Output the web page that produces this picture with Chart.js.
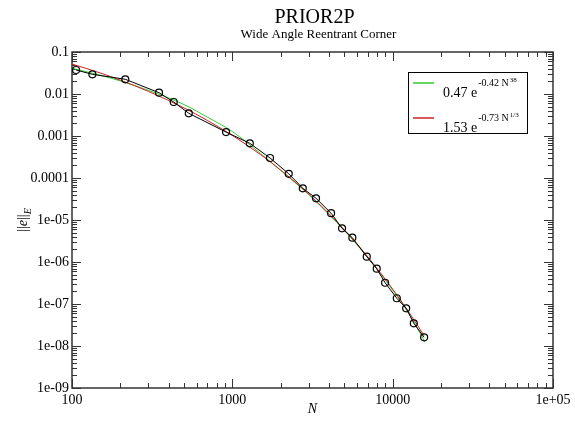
<!DOCTYPE html>
<html>
<head>
<meta charset="utf-8">
<script src="https://cdn.jsdelivr.net/npm/chart.js@4/dist/chart.umd.min.js"></script>
<style>
  html, body { margin: 0; padding: 0; background: #fff; }
  canvas { display: block; }
</style>
</head>
<body>
<canvas id="chart" width="575" height="421"></canvas>
<script>
// measured error vs number of unknowns
const nPoints = [106, 134, 215, 349, 431, 535, 914, 1285, 1718, 2248, 2750, 3327, 4130, 4833, 5605, 6893, 7954, 8970, 10610, 12140, 13550, 15710];
const errPoints = [0.0373, 0.0294, 0.0224, 0.01073, 0.00645, 0.00347, 0.00124, 0.00067, 0.000299, 0.000126, 5.69e-5, 3.29e-5, 1.45e-5, 6.34e-6, 3.79e-6, 1.34e-6, 6.92e-7, 3.21e-7, 1.37e-7, 7.9e-8, 3.47e-8, 1.61e-8];

// fitted curves
const greenN = [100, 150, 200, 300, 500, 700, 1000, 1500, 2000, 3000, 4000, 5000, 7000, 10000, 13000, 15900];
const greenE = [0.041, 0.028, 0.0205, 0.0122, 0.0056, 0.0028, 0.00128, 0.00038, 0.000152, 4.0e-5, 1.36e-5, 5.6e-6, 1.27e-6, 2.15e-7, 4.9e-8, 1.25e-8];
const redN = [100, 150, 200, 300, 500, 700, 1000, 1500, 2000, 3000, 4000, 5000, 7000, 10000, 13000, 15710];
const redE = [0.0516, 0.0317, 0.0214, 0.0115, 0.00466, 0.00234, 0.00103, 0.00036, 0.000155, 4.1e-5, 1.42e-5, 5.8e-6, 1.32e-6, 2.26e-7, 5.4e-8, 1.76e-8];

const xTickLabels = { 2: '100', 3: '1000', 4: '10000', 5: '1e+05' };
const yTickLabels = { '-1': '0.1', '-2': '0.01', '-3': '0.001', '-4': '0.0001', '-5': '1e-05', '-6': '1e-06', '-7': '1e-07', '-8': '1e-08', '-9': '1e-09' };

const GREEN = '#2fcc2f';
const RED = '#d02020';
const SERIF = '"Liberation Serif", "DejaVu Serif", serif';

function pairs(xs, ys) {
  return xs.map((x, i) => ({ x: x, y: ys[i] }));
}

function logTicks(lo, hi) {
  const out = [];
  for (let e = lo; e < hi; e++) {
    for (let m = 1; m < 10; m++) out.push({ value: m * Math.pow(10, e) });
  }
  out.push({ value: Math.pow(10, hi) });
  return out;
}

function exponentOf(v) {
  const l = Math.log10(v);
  return Math.abs(l - Math.round(l)) < 1e-6 ? Math.round(l) : null;
}

const framePlugin = {
  id: 'frame',
  beforeDatasetsDraw(chart) {
    const ctx = chart.ctx;
    const a = chart.chartArea;
    const xs = chart.scales.x, ys = chart.scales.y;
    ctx.save();
    ctx.strokeStyle = '#333';
    ctx.lineWidth = 1;
    xs.ticks.forEach(t => {
      const px = Math.round(xs.getPixelForValue(t.value)) + 0.5;
      const len = exponentOf(t.value) !== null ? 9 : 5;
      ctx.beginPath();
      ctx.moveTo(px, a.bottom); ctx.lineTo(px, a.bottom - len);
      ctx.moveTo(px, a.top); ctx.lineTo(px, a.top + len);
      ctx.stroke();
    });
    ys.ticks.forEach(t => {
      const py = Math.round(ys.getPixelForValue(t.value)) + 0.5;
      const len = exponentOf(t.value) !== null ? 9 : 5;
      ctx.beginPath();
      ctx.moveTo(a.left, py); ctx.lineTo(a.left + len, py);
      ctx.moveTo(a.right, py); ctx.lineTo(a.right - len, py);
      ctx.stroke();
    });
    ctx.lineWidth = 1.5;
    ctx.strokeRect(a.left, a.top, a.right - a.left, a.bottom - a.top);
    ctx.restore();
  },
  afterDraw(chart) {
    const ctx = chart.ctx;
    const a = chart.chartArea;
    const cx = (a.left + a.right) / 2;
    ctx.save();
    ctx.fillStyle = '#000';
    ctx.textAlign = 'center';
    ctx.textBaseline = 'alphabetic';
    ctx.font = '20px ' + SERIF;
    ctx.fillText('PRIOR2P', cx + 2, 23);
    ctx.font = '13px ' + SERIF;
    ctx.fillText('Wide Angle Reentrant Corner', cx + 6, 38);

    // x axis title
    ctx.font = 'italic 14px ' + SERIF;
    ctx.fillText('N', cx, 413);

    // y axis title ||e||_E
    ctx.save();
    ctx.translate(27, (a.top + a.bottom) / 2);
    ctx.rotate(-Math.PI / 2);
    ctx.textAlign = 'left';
    const parts = [['||', '14px '], ['e', 'italic 14px '], ['||', '14px ']];
    let w = 0;
    parts.forEach(p => { ctx.font = p[1] + SERIF; w += ctx.measureText(p[0]).width; });
    ctx.font = 'italic 10px ' + SERIF;
    w += ctx.measureText('E').width;
    let x = -w / 2;
    parts.forEach(p => { ctx.font = p[1] + SERIF; ctx.fillText(p[0], x, 0); x += ctx.measureText(p[0]).width; });
    ctx.font = 'italic 10px ' + SERIF;
    ctx.fillText('E', x, 4);
    ctx.restore();

    // legend box
    ctx.strokeStyle = '#000';
    ctx.lineWidth = 1;
    ctx.strokeRect(408.5, 72.5, 119, 61);
    const rows = [
      { color: GREEN, y: 83, base: '0.47 e', sup: '-0.42 N', sup2: '38' },
      { color: RED, y: 118, base: '1.53 e', sup: '-0.73 N', sup2: '1/3' }
    ];
    rows.forEach(r => {
      ctx.strokeStyle = r.color;
      ctx.lineWidth = 1.5;
      ctx.beginPath();
      ctx.moveTo(413, r.y); ctx.lineTo(434, r.y);
      ctx.stroke();
      ctx.textAlign = 'left';
      let tx = 443;
      const by = r.y + 14;
      ctx.font = '14px ' + SERIF;
      ctx.fillText(r.base, tx, by);
      tx += ctx.measureText(r.base).width + 1;
      ctx.font = '10px ' + SERIF;
      ctx.fillText(r.sup, tx, by - 11);
      tx += ctx.measureText(r.sup).width + 1;
      ctx.font = '7px ' + SERIF;
      ctx.fillText(r.sup2, tx, by - 15);
    });
    ctx.restore();
  }
};

new Chart(document.getElementById('chart'), {
  type: 'scatter',
  data: {
    datasets: [
      {
        label: 'data',
        data: pairs(nPoints, errPoints),
        showLine: true,
        borderColor: '#000',
        borderWidth: 1,
        pointRadius: 3.5,
        pointBorderWidth: 1.2,
        pointBorderColor: '#000',
        pointBackgroundColor: 'rgba(0,0,0,0)',
        order: 0
      },
      {
        label: '1.53 e^(-0.73 N^1/3)',
        data: pairs(redN, redE),
        showLine: true,
        borderColor: RED,
        borderWidth: 1,
        pointRadius: 0,
        cubicInterpolationMode: 'monotone',
        order: 1
      },
      {
        label: '0.47 e^(-0.42 N^38)',
        data: pairs(greenN, greenE),
        showLine: true,
        borderColor: GREEN,
        borderWidth: 1,
        pointRadius: 0,
        cubicInterpolationMode: 'monotone',
        order: 2
      }
    ]
  },
  options: {
    responsive: false,
    animation: false,
    layout: { padding: { top: 52, right: 22, left: 0, bottom: 0 } },
    plugins: { legend: { display: false }, tooltip: { enabled: false } },
    scales: {
      x: {
        type: 'logarithmic',
        min: 100,
        max: 100000,
        afterBuildTicks: s => { s.ticks = logTicks(2, 5); },
        afterFit: s => { s.height = 33; },
        grid: { display: false, drawTicks: false },
        border: { display: false },
        ticks: {
          autoSkip: false,
          maxRotation: 0,
          padding: 4,
          color: '#000',
          font: { family: SERIF, size: 14 },
          callback: v => { const e = exponentOf(v); return e !== null ? xTickLabels[e] : ''; }
        }
      },
      y: {
        type: 'logarithmic',
        min: 1e-9,
        max: 0.1,
        afterBuildTicks: s => { s.ticks = logTicks(-9, -1); },
        afterFit: s => { s.width = 72; },
        grid: { display: false, drawTicks: false },
        border: { display: false },
        ticks: {
          autoSkip: false,
          padding: 3,
          color: '#000',
          font: { family: SERIF, size: 14 },
          callback: v => { const e = exponentOf(v); return e !== null ? yTickLabels[e] : ''; }
        }
      }
    }
  },
  plugins: [framePlugin]
});
</script>
</body>
</html>
